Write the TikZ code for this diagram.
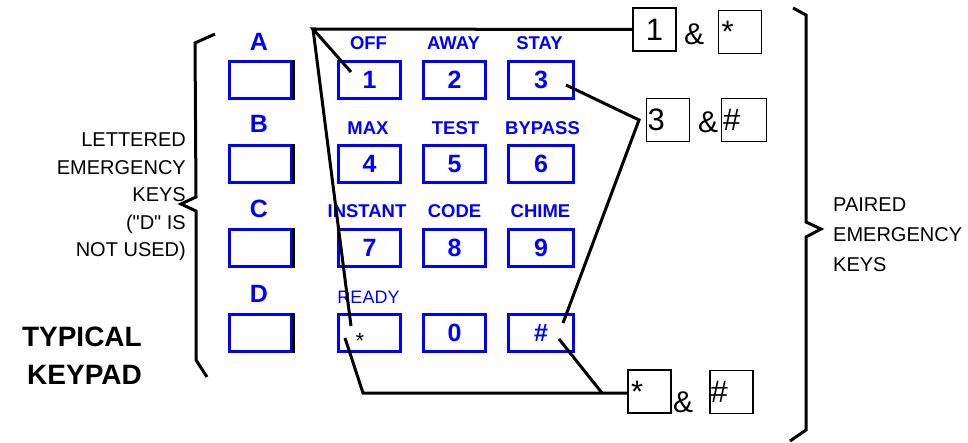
\documentclass[tikz,border=0pt]{standalone}
\usepackage{fontspec}
\setmainfont{Liberation Sans}
\definecolor{keyblue}{RGB}{0,0,255}
\tikzset{
  key/.style={draw=keyblue, line width=3pt, minimum width=62pt, minimum height=37pt, inner sep=0pt, text=keyblue, font=\bfseries\fontsize{25}{25}\selectfont},
  keylbl/.style={text=keyblue, inner sep=0pt, font=\bfseries\fontsize{18.5}{20}\selectfont},
  letter/.style={text=keyblue, inner sep=0pt, font=\bfseries\fontsize{25}{25}\selectfont},
  pairbox/.style={draw, line width=1.6pt, text width=41pt, align=left, inner xsep=1pt, inner ysep=0pt, minimum height=43pt, font=\fontsize{31}{31}\selectfont},
  amp/.style={anchor=base west, inner sep=0pt, font=\fontsize{30}{30}\selectfont},
  note/.style={inner sep=0pt, font=\fontsize{20}{27.5}\selectfont},
  link/.style={line width=3pt}
}
\begin{document}
\begin{tikzpicture}[x=1pt,y=-1pt]
\useasboundingbox (0,0) rectangle (968,443);

\node[letter] (lA) at (259,41.5) {A};
\node[letter] (lB) at (259,124) {B};
\node[letter] (lC) at (259,208.5) {C};
\node[letter] (lD) at (259,294) {D};
\node[key] (kA) at (260.5,80) {};
\node[key] (kB) at (260.5,164) {};
\node[key] (kC) at (260.5,248) {};
\node[key] (kD) at (260.5,332.5) {};
\draw[link] (kA.north east) -- (kA.south east) (kB.north east) -- (kB.south east)
  (kC.north east) -- (kC.south east) (kD.north east) -- (kD.south east);

\node[keylbl] (tOff) at (368.5,43.5) {OFF};
\node[keylbl] (tAway) at (453.5,43.5) {AWAY};
\node[keylbl] (tStay) at (539.5,43.5) {STAY};
\node[keylbl] (tMax) at (368,128.5) {MAX};
\node[keylbl] (tTest) at (455.5,128.5) {TEST};
\node[keylbl] (tBypass) at (542.5,128.5) {BYPASS};
\node[keylbl] (tInstant) at (367,211) {INSTANT};
\node[keylbl] (tCode) at (454.5,211) {CODE};
\node[keylbl] (tChime) at (540.5,211) {CHIME};
\node[keylbl, font=\fontsize{18}{20}\selectfont] (tReady) at (368.5,297.5) {READY};

\node[key] (k1) at (369.5,80) {1};
\node[key] (k2) at (454.5,80) {2};
\node[key, minimum width=65pt] (k3) at (541,80) {3};
\node[key] (k4) at (369.5,164) {4};
\node[key] (k5) at (454.5,164) {5};
\node[key, minimum width=65pt] (k6) at (541,164) {6};
\node[key] (k7) at (369.5,248) {7};
\node[key] (k8) at (454.5,248) {8};
\node[key, minimum width=65pt] (k9) at (541,248) {9};
\node[key] (kstar) at (369.5,332.5) {};
\node[anchor=base, inner sep=0pt, font=\fontsize{22}{22}\selectfont] (kstarsym) at (360,348) {*};
\node[key] (k0) at (454.5,332.5) {0};
\node[key, minimum width=65pt] (khash) at (541,332.5) {\#};

\node[note, align=right, anchor=east] (lettered) at (186,197) {LETTERED\\EMERGENCY\\KEYS\\(\textquotedbl D\textquotedbl{} IS\\NOT USED)};
\node[note, align=left, anchor=west, font=\fontsize{20}{30}\selectfont] (paired) at (833,235) {PAIRED\\EMERGENCY\\KEYS};
\node[inner sep=0pt, align=right, anchor=east, font=\bfseries\fontsize{28}{38}\selectfont] (typical) at (142,356) {TYPICAL\\KEYPAD};

\draw[link] (215,34) -- (195,43) -- (196,197) -- (181,204) -- (196,211) -- (196,360) -- (207,377);
\draw[link] (793,8) -- (806,15) -- (806,222) -- (821,229) -- (806,237) -- (806,430) -- (790,441);

\node[pairbox, align=center] (p1a) at (654.5,29.5) {1};
\node[amp] (amp1) at (684,45) {\&};
\node[pairbox, inner xsep=3pt, text width=37pt] (p1b) at (740,32) {\vphantom{1}*};
\node[pairbox] (p3a) at (668,120) {3};
\node[amp] (amp3) at (698,133) {\&};
\node[pairbox, minimum width=45pt, text width=42pt, inner xsep=1.5pt] (p3b) at (744,120) {\#};
\node[pairbox, inner xsep=3pt, text width=37pt] (pBa) at (649.5,391.5) {\vphantom{1}*};
\node[amp] (ampB) at (673,412) {\&};
\node[pairbox, inner xsep=0.5pt, text width=42pt] (pBb) at (731.5,392) {\#};

\coordinate (j1) at (313,29);
\coordinate (e1) at (351,72);
\coordinate (e1s) at (351,326);
\coordinate (e3) at (566,85);
\coordinate (j3) at (639,120);
\coordinate (e3h) at (563,323);
\coordinate (eBs) at (345,338);
\coordinate (jBs) at (363,393);
\coordinate (eBh) at (559,339);
\coordinate (jBh) at (602,393);
\draw[link] (p1a.west) -- (j1) -- (e1);
\draw[link] (j1) -- (e1s);
\draw[link] (e3) -- (j3) -- (e3h);
\draw[link] (eBs) -- (jBs) -- (pBa.west |- jBs);
\draw[link] (eBh) -- (jBh);
\end{tikzpicture}
\end{document}
